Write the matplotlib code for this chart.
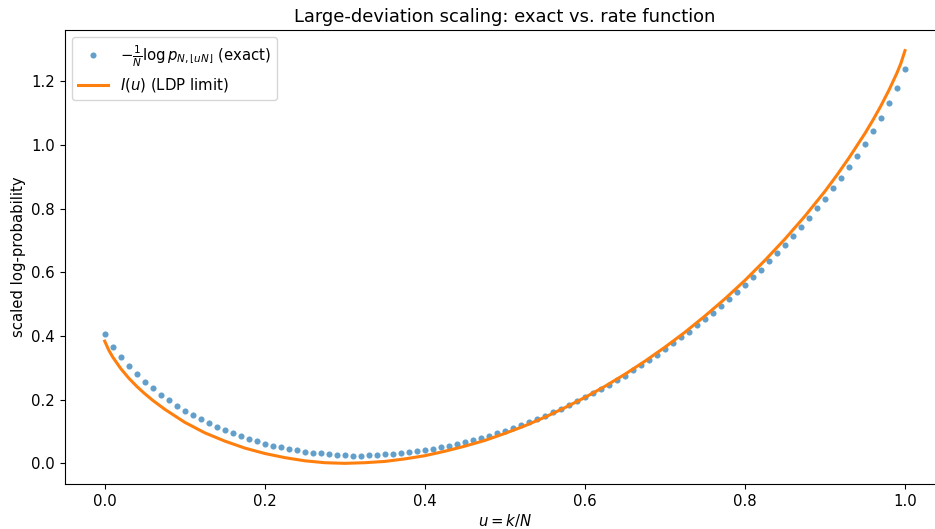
import numpy as np
import matplotlib
matplotlib.use('Agg')
import matplotlib.pyplot as plt

plt.rcParams['font.size'] = 10.7

N = 100
k = np.arange(N + 1)
# exact scaled log-probabilities, k = 0..100
exact_vals = [
    0.405, 0.367, 0.334, 0.305, 0.280, 0.257, 0.236, 0.216, 0.198, 0.181,
    0.165, 0.151, 0.138, 0.126, 0.114, 0.104, 0.094, 0.085, 0.077, 0.069,
    0.062, 0.056, 0.050, 0.045, 0.041, 0.037, 0.034, 0.031, 0.028, 0.026,
    0.025, 0.024, 0.024, 0.025, 0.026, 0.028, 0.030, 0.032, 0.035, 0.038,
    0.042, 0.046, 0.050, 0.055, 0.060, 0.066, 0.072, 0.079, 0.086, 0.094,
    0.102, 0.111, 0.120, 0.130, 0.140, 0.150, 0.161, 0.172, 0.183, 0.195,
    0.207, 0.220, 0.233, 0.247, 0.262, 0.276, 0.292, 0.308, 0.325, 0.342,
    0.359, 0.377, 0.396, 0.414, 0.434, 0.454, 0.474, 0.495, 0.517, 0.539,
    0.562, 0.585, 0.609, 0.635, 0.661, 0.687, 0.714, 0.742, 0.771, 0.801,
    0.832, 0.864, 0.897, 0.931, 0.967, 1.004, 1.044, 1.086, 1.131, 1.180,
    1.238,
]
# rate function curve
rate_u = [0.0, 0.005, 0.01, 0.02, 0.03, 0.04, 0.05, 0.06, 0.075, 0.1, 0.125,
          0.15, 0.175, 0.2, 0.225, 0.25, 0.275, 0.3, 0.325, 0.35, 0.375, 0.4,
          0.425, 0.45, 0.475, 0.5, 0.525, 0.55, 0.575, 0.6, 0.625, 0.65,
          0.675, 0.7, 0.725, 0.75, 0.775, 0.8, 0.825, 0.85, 0.875, 0.9,
          0.915, 0.93, 0.95, 0.96, 0.97, 0.98, 0.99, 0.995, 1.0]
rate_vals = [0.384, 0.356, 0.334, 0.298, 0.268, 0.242, 0.219, 0.198, 0.170,
             0.129, 0.096, 0.070, 0.048, 0.031, 0.018, 0.008, 0.002, 0.0,
             0.002, 0.006, 0.014, 0.024, 0.038, 0.054, 0.072, 0.094, 0.118,
             0.145, 0.175, 0.207, 0.242, 0.280, 0.321, 0.365, 0.412, 0.463,
             0.517, 0.575, 0.638, 0.705, 0.777, 0.855, 0.906, 0.960, 1.037,
             1.079, 1.124, 1.173, 1.227, 1.258, 1.297]

fig = plt.figure(figsize=(9.35, 5.29), dpi=100)
# axes runs a bit past the right edge, like the reference crop
ax = fig.add_axes([0.0692, 0.0851, 0.9415, 0.8582])
ax.plot(k / N, exact_vals, 'o', ms=4.4, alpha=0.7, color='C0', mew=0,
        label=r'$-\frac{1}{N}\log p_{N,\lfloor uN\rfloor}$ (exact)')
ax.plot(rate_u, rate_vals, color='C1', lw=2.2, label=r'$I(u)$ (LDP limit)')
ax.set_xlabel(r'$u=k/N$', labelpad=2.5)
ax.set_ylabel('scaled log-probability')
ax.set_title('Large-deviation scaling: exact vs. rate function')
ax.legend(loc='upper left')

fig.savefig('out.png', dpi=100)
